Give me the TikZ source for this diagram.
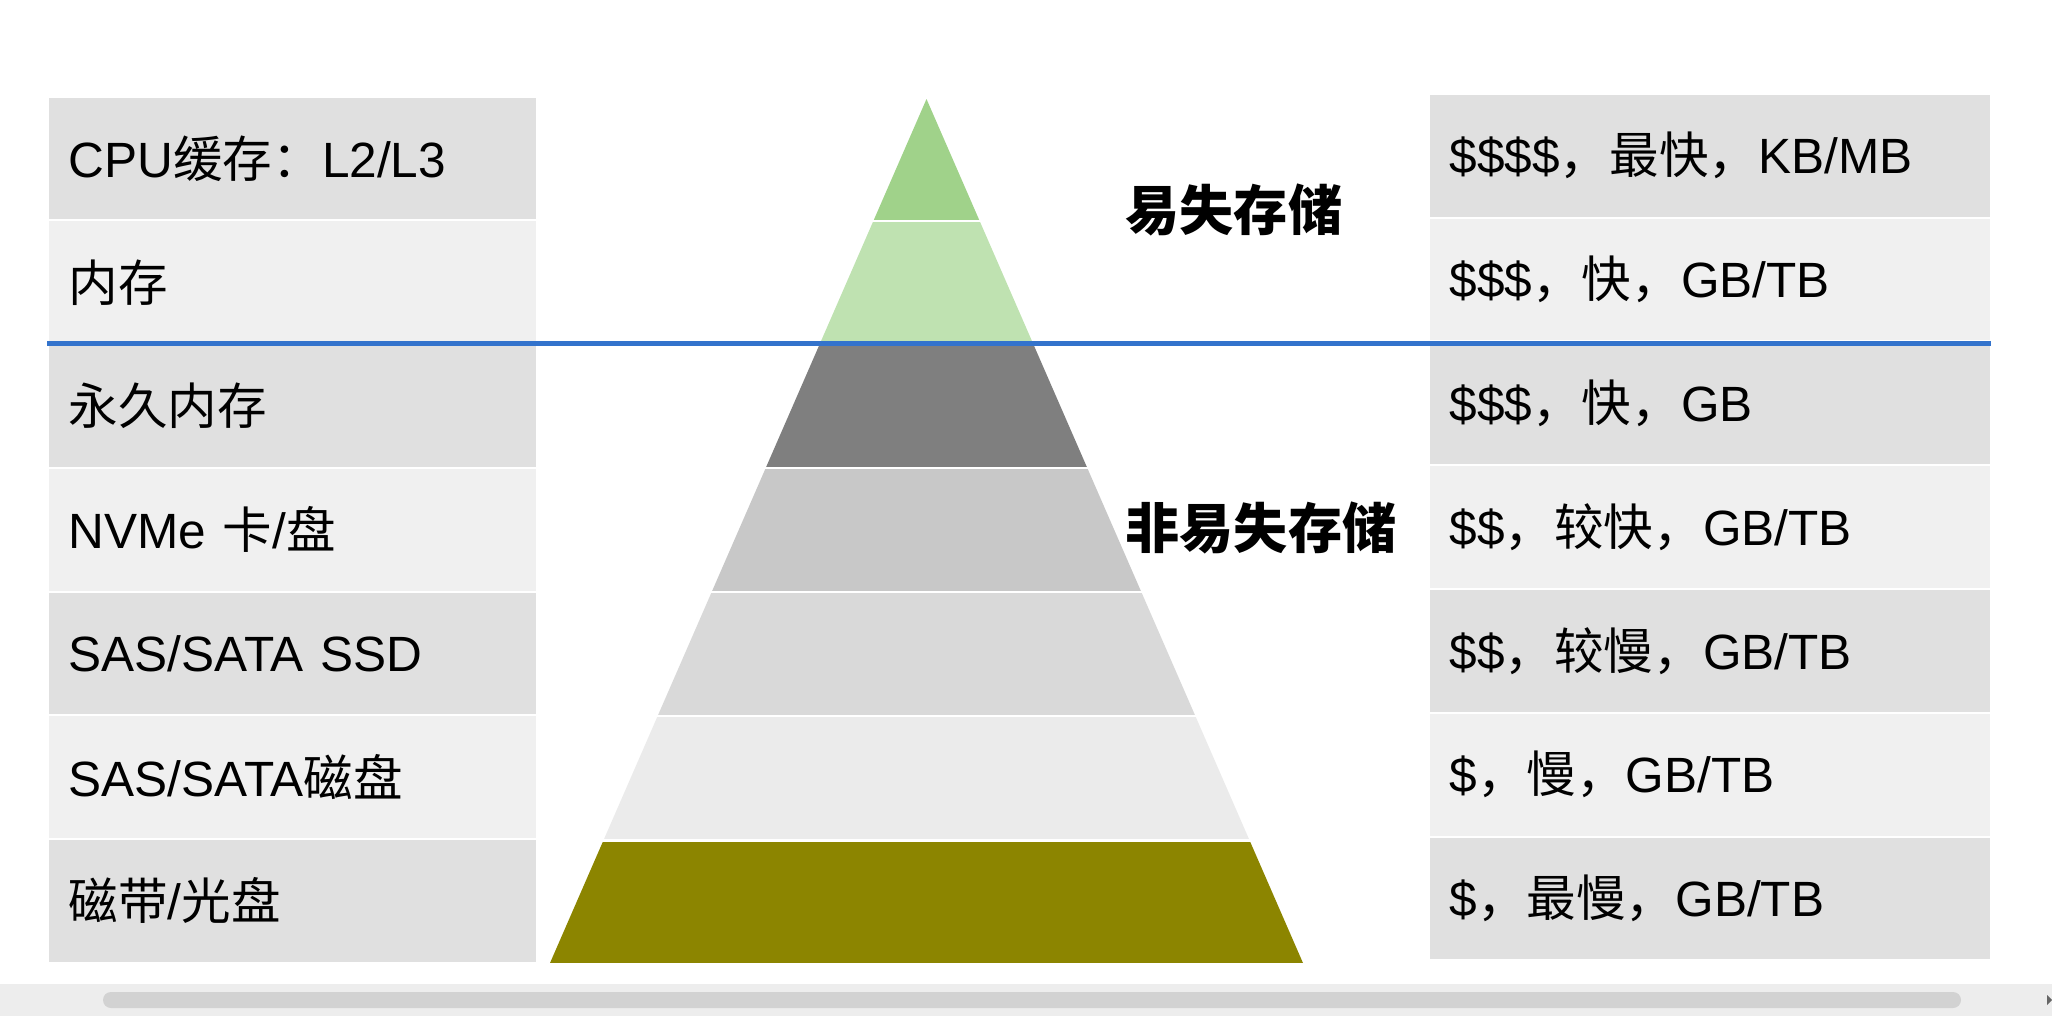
\documentclass[tikz,border=0pt]{standalone}
\usepackage{fontspec}
\setmainfont{Liberation Sans}
\newfontfamily\cjk{Noto Sans CJK SC}
\newcommand{\zh}[1]{{\cjk #1}}
\definecolor{rowdark}{HTML}{E0E0E0}
\definecolor{rowlight}{HTML}{F0F0F0}
\definecolor{tierA}{HTML}{A0D28A}
\definecolor{tierB}{HTML}{BFE2B1}
\definecolor{tierC}{HTML}{7F7F7F}
\definecolor{tierD}{HTML}{C8C8C8}
\definecolor{tierE}{HTML}{D9D9D9}
\definecolor{tierF}{HTML}{EBEBEB}
\definecolor{tierG}{HTML}{8C8500}
\definecolor{splitblue}{HTML}{3373CC}
\definecolor{barbg}{HTML}{EDEDED}
\definecolor{barthumb}{HTML}{D2D2D2}
\tikzset{
  % a cell of the left-hand table (medium)
  lcell/.style  = {anchor=north west, minimum width=4.87cm,
                   minimum height=1.217cm, text width=4.47cm,
                   inner xsep=0.2cm, inner ysep=0pt, align=left,
                   font=\fontsize{14.1}{16}\selectfont},
  % a cell of the right-hand table (price, speed, size)
  rcell/.style  = {lcell, minimum width=5.60cm, text width=5.20cm,
                   minimum height=1.218cm},
  % the volatile / non-volatile tags
  tag/.style    = {anchor=west, inner sep=0pt,
                   font=\cjk\bfseries\fontsize{15.4}{18}\selectfont},
  % the blue volatile line
  divide/.style = {draw=splitblue, line width=0.5mm},
}

\begin{document}
\begin{tikzpicture}
  \useasboundingbox (0,0) rectangle (20.52,-10.16);
  % left table
  \node[lcell, fill=rowdark]  (L1) at (0.48,-0.970) {CPU\zh{缓存：}L2/L3};
  \node[lcell, fill=rowlight] (L2) at (0.48,-2.207) {\zh{内存}};
  \node[lcell, fill=rowdark]  (L3) at (0.48,-3.444) {\zh{永久内存}};
  \node[lcell, fill=rowlight] (L4) at (0.48,-4.681) {NVMe \zh{卡}/\zh{盘}};
  \node[lcell, fill=rowdark]  (L5) at (0.48,-5.918) {SAS/SATA SSD};
  \node[lcell, fill=rowlight] (L6) at (0.48,-7.155) {SAS/SATA\zh{磁盘}};
  \node[lcell, fill=rowdark]  (L7) at (0.48,-8.392) {\zh{磁带}/\zh{光盘}};
  % right table
  \node[rcell, fill=rowdark]  (R1) at (14.29,-0.940) {\$\$\$\$\zh{，最快，}KB/MB};
  \node[rcell, fill=rowlight] (R2) at (14.29,-2.178) {\$\$\$\zh{，快，}GB/TB};
  \node[rcell, fill=rowdark]  (R3) at (14.29,-3.416) {\$\$\$\zh{，快，}GB};
  \node[rcell, fill=rowlight] (R4) at (14.29,-4.654) {\$\$\zh{，较快，}GB/TB};
  \node[rcell, fill=rowdark]  (R5) at (14.29,-5.892) {\$\$\zh{，较慢，}GB/TB};
  \node[rcell, fill=rowlight] (R6) at (14.29,-7.130) {\$\zh{，慢，}GB/TB};
  \node[rcell, fill=rowdark]  (R7) at (14.29,-8.368) {\$\zh{，最慢，}GB/TB};
  % pyramid
  \begin{scope}
    \clip (9.265,-0.99) -- (13.03,-9.63) -- (5.50,-9.63) -- cycle;
    \fill[tierA] (5,-0.90) rectangle (14,-2.197);
    \fill[tierB] (5,-2.217) rectangle (14,-3.434);
    \fill[tierC] (5,-3.454) rectangle (14,-4.671);
    \fill[tierD] (5,-4.691) rectangle (14,-5.908);
    \fill[tierE] (5,-5.928) rectangle (14,-7.145);
    \fill[tierF] (5,-7.165) rectangle (14,-8.390);
    \fill[tierG] (5,-8.415) rectangle (14,-9.63);
  \end{scope}
  \node[tag] (vol)    at (11.25,-2.10) {易失存储};
  \node[tag] (nonvol) at (11.25,-5.28) {非易失存储};
  % volatile / non-volatile split
  \coordinate (splitL) at (0.47,-3.435);
  \coordinate (splitR) at (19.91,-3.435);
  \draw[divide] (splitL) -- (splitR);
  % scroll bar
  \fill[barbg] (0,-9.84) rectangle (20.52,-10.16);
  \fill[barthumb, rounded corners=0.08cm] (1.03,-9.92) rectangle (19.61,-10.08);
  \fill[black!60] (20.47,-9.95) -- (20.52,-10.00) -- (20.47,-10.05) -- cycle;
\end{tikzpicture}
\end{document}
